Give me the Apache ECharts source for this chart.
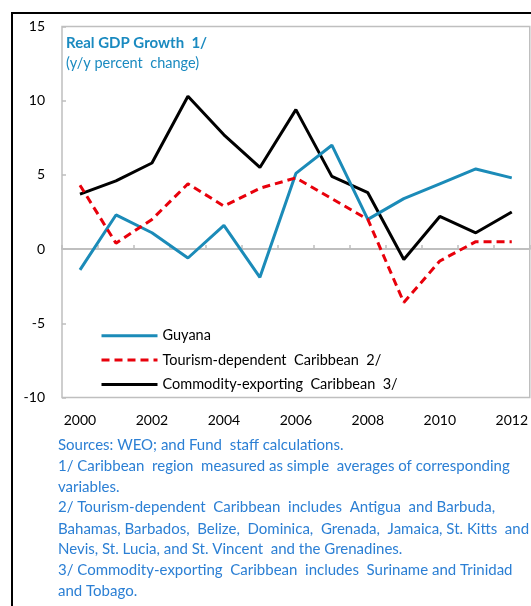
<!DOCTYPE html>
<html>
<head>
<meta charset="utf-8">
<script src="https://cdn.jsdelivr.net/npm/echarts@6/dist/echarts.min.js"></script>
<style>
  html, body { margin: 0; padding: 0; background: #fff; }
  #chart { width: 531px; height: 606px; }
</style>
</head>
<body>
<div id="chart"></div>
<script>
// 数据
const years = ['2000', '2001', '2002', '2003', '2004', '2005', '2006', '2007', '2008', '2009', '2010', '2011', '2012'];
const guyana = [-1.4, 2.3, 1.1, -0.6, 1.6, -1.9, 5.1, 7.0, 2.0, 3.4, 4.4, 5.4, 4.8];
const tourism = [4.3, 0.4, 2.0, 4.4, 2.9, 4.1, 4.8, 3.4, 2.0, -3.6, -0.8, 0.5, 0.5];
const commodity = [3.7, 4.6, 5.8, 10.3, 7.7, 5.5, 9.4, 4.9, 3.8, -0.7, 2.2, 1.1, 2.5];
const seriesNames = ['Guyana', 'Tourism-dependent  Caribbean  2/', 'Commodity-exporting  Caribbean  3/'];
const notes = [
  'Sources: WEO; and Fund  staff calculations.',
  '1/ Caribbean  region  measured as simple  averages of corresponding',
  'variables.',
  '2/ Tourism-dependent  Caribbean  includes  Antigua  and Barbuda,',
  'Bahamas, Barbados,  Belize,  Dominica,  Grenada,  Jamaica, St. Kitts  and',
  'Nevis, St. Lucia, and St. Vincent  and the Grenadines.',
  '3/ Commodity-exporting  Caribbean  includes  Suriname and Trinidad',
  'and Tobago.'
];

const font = 'Lato, "Open Sans", sans-serif';
const gray = '#bfbfbf';

const chart = echarts.init(document.getElementById('chart'));

// 脚注文字
const noteY = [446.7, 467.7, 488.7, 509, 530.4, 551, 572, 592.3];
const noteEls = notes.map((t, i) => ({
  type: 'text',
  left: 58,
  top: noteY[i] - 9,
  style: { text: t, fill: '#2b7fd4', font: '15px ' + font }
}));

chart.setOption({
  animation: false,
  textStyle: { fontFamily: font },
  grid: {
    left: 62, top: 26.5, width: 468, height: 371,
    show: true, borderColor: gray, borderWidth: 1.5, backgroundColor: 'transparent'
  },
  graphic: [
    {
      type: 'rect',
      shape: { x: 12, y: 13, width: 700, height: 700 },
      style: { fill: 'none', stroke: '#000', lineWidth: 2 }
    },
    {
      type: 'text', left: 66, top: 36,
      style: { text: 'Real GDP Growth  1/', fill: '#1a8ac0', font: 'bold 15px ' + font }
    },
    {
      type: 'text', left: 66, top: 56,
      style: { text: '(y/y percent  change)', fill: '#1a8ac0', font: '14.5px ' + font }
    }
  ].concat(noteEls),
  legend: {
    orient: 'vertical',
    left: 95, top: 323.3,
    itemWidth: 56, itemHeight: 14, itemGap: 9.3,
    itemStyle: { opacity: 0 },
    lineStyle: { width: 3 },
    textStyle: { fontSize: 14.5, color: '#000', fontFamily: font },
    data: seriesNames
  },
  xAxis: [
    {
      type: 'category',
      data: years,
      position: 'bottom',
      axisLine: { show: false, onZero: false },
      axisTick: { show: false },
      axisLabel: { interval: 1, margin: 16, fontSize: 14, color: '#000' }
    },
    {
      type: 'category',
      data: years,
      position: 'bottom',
      axisLine: { show: true, onZero: true, lineStyle: { color: gray, width: 2 } },
      axisTick: { show: true, inside: true, length: 4, interval: 0, lineStyle: { color: gray, width: 1.5 } },
      axisLabel: { show: false }
    }
  ],
  yAxis: {
    type: 'value',
    min: -10, max: 15, interval: 5,
    axisLine: { show: false },
    axisTick: { show: true, inside: true, length: 4, lineStyle: { color: gray, width: 1.5 } },
    axisLabel: { margin: 17, fontSize: 14, color: '#000' },
    splitLine: { show: false }
  },
  series: [
    {
      name: seriesNames[0], type: 'line', data: guyana, symbol: 'none',
      lineStyle: { color: '#1b8bb8', width: 3 }, itemStyle: { color: '#1b8bb8' }, z: 3
    },
    {
      name: seriesNames[1], type: 'line', data: tourism, symbol: 'none',
      lineStyle: { color: '#e8000b', width: 3, type: [8, 5] }, itemStyle: { color: '#e8000b' }, z: 4
    },
    {
      name: seriesNames[2], type: 'line', data: commodity, symbol: 'none',
      lineStyle: { color: '#000', width: 3 }, itemStyle: { color: '#000' }, z: 2
    }
  ]
});
</script>
</body>
</html>
